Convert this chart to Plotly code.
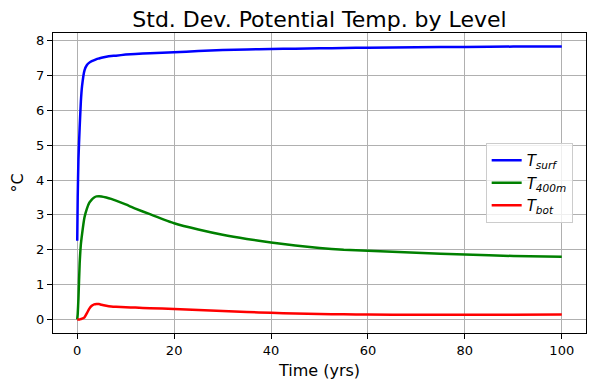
import plotly.graph_objects as go

time_yrs = [0, 0.1, 0.25, 0.5, 0.75, 1, 1.5, 2, 2.5, 3, 3.5, 4, 4.5, 5, 6, 7, 8, 10, 12, 15,
            20, 25, 30, 35, 40, 45, 50, 55, 60, 70, 80, 90, 100]

t_surf = [2.26, 3.5, 4.6, 5.5, 6.25, 6.7, 7.15, 7.3, 7.37, 7.41, 7.44, 7.47, 7.49, 7.51, 7.54,
          7.56, 7.57, 7.60, 7.62, 7.64, 7.67, 7.70, 7.73, 7.75, 7.76, 7.77, 7.78, 7.79, 7.80,
          7.81, 7.82, 7.83, 7.83]

t_400m = [0.0, 0.15, 0.6, 1.6, 2.15, 2.45, 2.93, 3.18, 3.35, 3.44, 3.50, 3.53, 3.535, 3.53, 3.50,
          3.46, 3.41, 3.30, 3.18, 3.02, 2.76, 2.58, 2.43, 2.31, 2.21, 2.12, 2.05, 2.00, 1.97,
          1.91, 1.86, 1.82, 1.80]

t_bot = [0.0, 0.0, 0.0, 0.0, 0.01, 0.02, 0.06, 0.18, 0.31, 0.39, 0.43, 0.44, 0.44, 0.42, 0.39,
         0.37, 0.36, 0.35, 0.34, 0.32, 0.30, 0.27, 0.24, 0.21, 0.19, 0.17, 0.155, 0.145, 0.14,
         0.135, 0.135, 0.135, 0.14]

series = [
    ("<i>T</i><sub><i>surf</i></sub>", t_surf, "#0000ff"),
    ("<i>T</i><sub><i>400m</i></sub>", t_400m, "#008000"),
    ("<i>T</i><sub><i>bot</i></sub>", t_bot, "#ff0000"),
]

fig = go.Figure()
for name, vals, color in series:
    fig.add_trace(go.Scatter(x=time_yrs, y=vals, mode="lines", name=name,
                             line=dict(color=color, width=2.5, shape="spline", smoothing=0.5)))

axis_common = dict(
    showline=True, linecolor="black", linewidth=1, mirror=True,
    showgrid=True, gridcolor="#b0b0b0", gridwidth=1,
    ticks="outside", ticklen=5, tickcolor="black",
    tickfont=dict(family="DejaVu Sans", size=13, color="black"),
    zeroline=False, automargin=False,
)

fig.update_layout(
    width=590, height=390,
    margin=dict(l=53, r=4, t=33, b=57),
    paper_bgcolor="white", plot_bgcolor="white",
    font=dict(family="DejaVu Sans", color="black"),
    title=dict(text="Std. Dev. Potential Temp. by Level", xref="paper", x=0.5, xanchor="center",
               yref="container", y=0.97, yanchor="top", font=dict(size=22, family="DejaVu Sans")),
    xaxis=dict(range=[-5, 105], tickvals=[0, 20, 40, 60, 80, 100],
               title=dict(text="Time (yrs)", font=dict(size=16), standoff=8), **axis_common),
    yaxis=dict(range=[-0.39, 8.22], tickvals=[0, 1, 2, 3, 4, 5, 6, 7, 8],
               title=dict(text="°C", font=dict(size=16), standoff=8), **axis_common),
    legend=dict(x=0.975, xanchor="right", y=0.5, yanchor="middle",
                bgcolor="rgba(255,255,255,0.8)", bordercolor="#cccccc", borderwidth=1,
                font=dict(size=15, family="DejaVu Sans")),
    showlegend=True,
)

fig.write_html(
    "out.html",
    config={"displayModeBar": False},
    post_script="document.body.style.margin='0';document.body.style.padding='0';"
                "document.body.style.overflow='hidden';",
)
